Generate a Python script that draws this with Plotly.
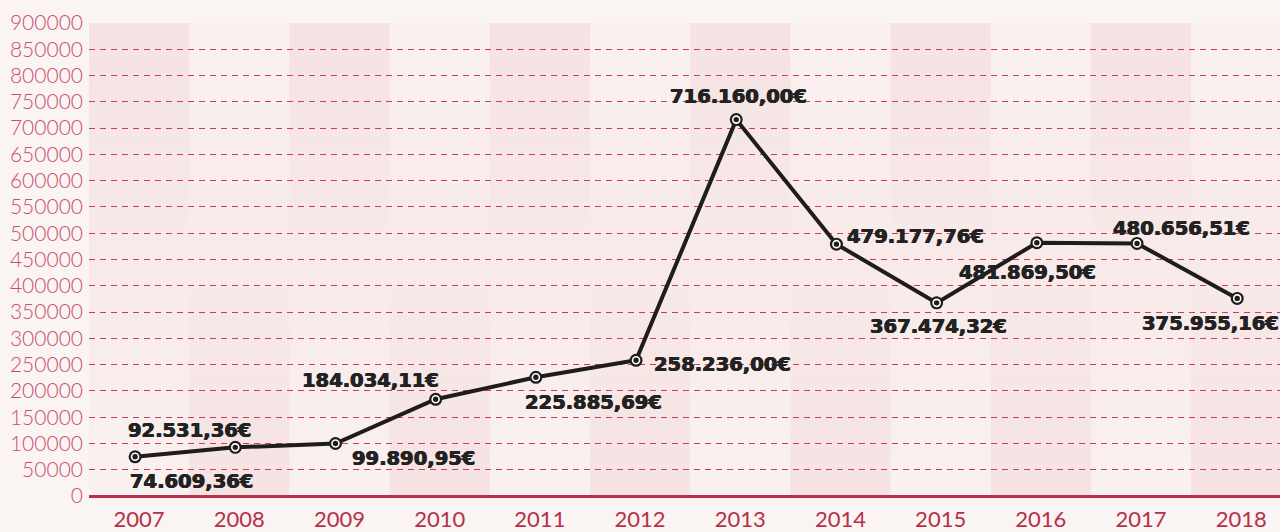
import plotly.graph_objects as go

years = ["2007", "2008", "2009", "2010", "2011", "2012", "2013", "2014", "2015", "2016", "2017", "2018"]
values = [74609.36, 92531.36, 99890.95, 184034.11, 225885.69, 258236.00,
          716160.00, 479177.76, 367474.32, 481869.50, 480656.51, 375955.16]
labels = ["74.609,36€", "92.531,36€", "99.890,95€", "184.034,11€", "225.885,69€", "258.236,00€",
          "716.160,00€", "479.177,76€", "367.474,32€", "481.869,50€", "480.656,51€", "375.955,16€"]
y_ticks = list(range(0, 900001, 50000))

# label offsets in pixels (style, not data)
label_shift = [(56, -25), (-46, 17), (78, -15), (-65, 19), (58, -25), (86, -4),
               (2, 23), (79, 8), (2, -24), (-9, -30), (44, 15), (-27, -25)]

BG = "#faf4f2"
DARK = "rgba(205,70,90,0.1)"
LIGHT = "rgba(205,70,90,0.015)"
YMAX = 900000
n = len(years)
xs = list(range(n))
band_off = 0.04

fig = go.Figure()

def band_trace(indices, scale):
    bx, by = [], []
    for i in indices:
        a, b = i - 0.5 + band_off, i + 0.5 + band_off
        bx += [a, b, b, a, a, None]
        by += [0, 0, YMAX, YMAX, 0, None]
    return go.Scatter(x=bx, y=by, mode="lines", fill="toself", line=dict(width=0),
                      fillgradient=dict(type="vertical", colorscale=scale),
                      hoverinfo="skip", showlegend=False)

fig.add_trace(band_trace([i for i in xs if i % 2 == 0], [[0, LIGHT], [1, DARK]]))
fig.add_trace(band_trace([i for i in xs if i % 2 == 1], [[0, DARK], [1, LIGHT]]))

fig.add_trace(go.Scatter(x=xs, y=values, mode="lines+markers",
                         line=dict(color="#1e1c1c", width=4),
                         marker=dict(size=13, color="#1e1c1c"),
                         hoverinfo="skip", showlegend=False))
fig.add_trace(go.Scatter(x=xs, y=values, mode="markers",
                         marker=dict(size=7, color="#1e1c1c", line=dict(color="white", width=1.6)),
                         hoverinfo="skip", showlegend=False))

for i, (v, t) in enumerate(zip(values, labels)):
    dx, dy = label_shift[i]
    fig.add_annotation(x=i, y=v, text=t, showarrow=False, xshift=dx, yshift=dy,
                       font=dict(family="DejaVu Sans", size=19.5, color="#222222", weight=700,
                                 shadow="0.5px 0 0 #222222, -0.5px 0 0 #222222"))

fig.update_layout(
    width=1280, height=532,
    paper_bgcolor=BG, plot_bgcolor=BG,
    margin=dict(l=89, r=0, t=23, b=36),
    xaxis=dict(range=[-0.46, 11.427], tickvals=[i + band_off for i in xs], ticktext=years,
               showgrid=False, zeroline=False, showline=False, ticks="", automargin=False,
               tickfont=dict(family="Lato", size=22, color="#b5304a", weight=400),
               ticklabelstandoff=8, fixedrange=True),
    yaxis=dict(range=[0, YMAX], tickvals=y_ticks, ticktext=[str(v) for v in y_ticks],
               showgrid=True, gridcolor="#c93d58", gridwidth=1.4, griddash="6px,5px",
               zeroline=True, zerolinecolor="#b9304a", zerolinewidth=3,
               showline=False, ticks="", automargin=False,
               tickfont=dict(family="Lato", size=21, color="#c9506a", weight=300),
               ticklabelstandoff=5, fixedrange=True),
)

fig.write_html("out.html", config={"displayModeBar": False},
               post_script="document.body.style.margin='0';document.body.style.overflow='hidden';")
